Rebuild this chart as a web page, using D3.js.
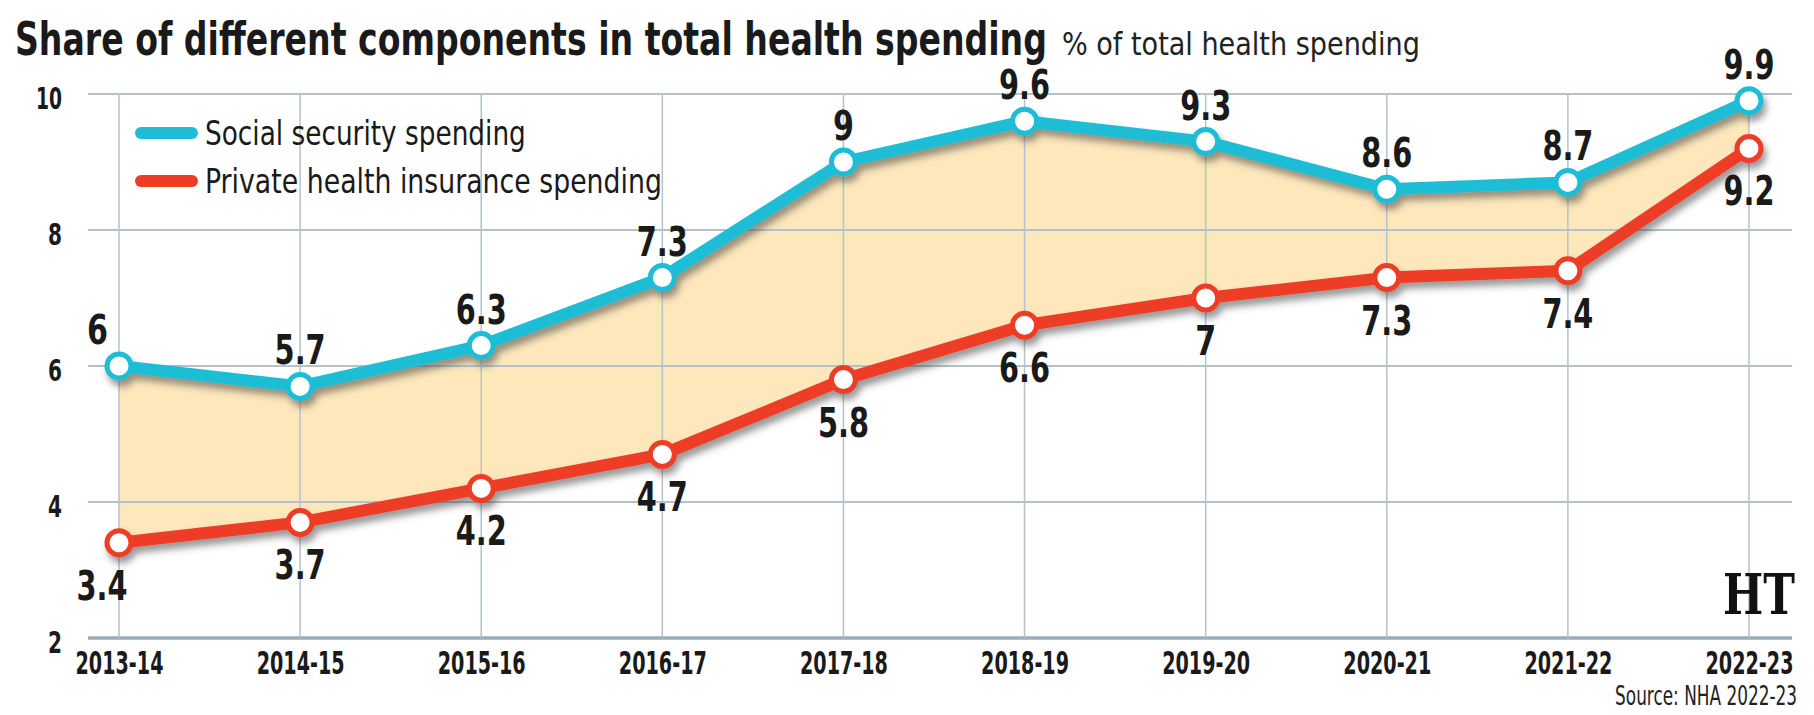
<!DOCTYPE html>
<html>
<head>
<meta charset="utf-8">
<script src="https://cdn.jsdelivr.net/npm/d3@7"></script>
<style>
  body { margin: 0; background: #fff; }
  svg { display: block; }
  .cond { font-family: "Liberation Sans Narrow", "DejaVu Sans Condensed", "Arial Narrow", sans-serif; }
</style>
</head>
<body>
<div id="container"></div>
<script>
/* DATA */
const years = ["2013-14", "2014-15", "2015-16", "2016-17", "2017-18", "2018-19", "2019-20", "2020-21", "2021-22", "2022-23"];
const socialSecurity = [6, 5.7, 6.3, 7.3, 9, 9.6, 9.3, 8.6, 8.7, 9.9];
const privateInsurance = [3.4, 3.7, 4.2, 4.7, 5.8, 6.6, 7, 7.3, 7.4, 9.2];
const yTicks = [2, 4, 6, 8, 10];
const seriesNames = ["Social security spending", "Private health insurance spending"];

/* CONSTANTS */
const width = 1814;
const height = 715;
const cyan = "#1fbdd5";
const red = "#ee3d26";
const gridColor = "#b4c2cb";
const fillColor = "#fde7bb";

const data = years.map((yr, i) => ({ year: yr, social: socialSecurity[i], priv: privateInsurance[i] }));

// rough width of a bold condensed number label
const labelWidth = s => String(s).replace(".", "").length * 21 + (String(s).includes(".") ? 9 : 0);

// squeeze a text horizontally to a target width (keeps its height)
function squeeze(sel, w, tx, ty) {
  sel.each(function(d, i) {
    const node = this;
    const natural = node.getComputedTextLength();
    const target = typeof w === "function" ? w(d, i) : w;
    const k = Math.min(1, target / natural);
    const x = typeof tx === "function" ? tx(d, i) : tx;
    const y = typeof ty === "function" ? ty(d, i) : ty;
    d3.select(node).attr("transform", `translate(${x},${y}) scale(${k},1)`);
  });
}

/* SCALES */
const xScale = d3.scalePoint()
  .domain(years)
  .range([119, 1749]);

const yScale = d3.scaleLinear()
  .domain([2, 10])
  .range([638, 94]);

const gridLeft = 88, gridRight = 1792;

/* SVG */
const svg = d3.select("#container")
  .append("svg")
  .attr("width", width)
  .attr("height", height);

svg.append("rect").attr("width", width).attr("height", height).attr("fill", "#fff");

const defs = svg.append("defs");
const shadow = defs.append("filter")
  .attr("id", "shadow")
  .attr("x", "-20%").attr("y", "-20%")
  .attr("width", "140%").attr("height", "160%");
shadow.append("feDropShadow")
  .attr("dx", 3).attr("dy", 6)
  .attr("stdDeviation", 3.5)
  .attr("flood-color", "#444")
  .attr("flood-opacity", 0.55);

// Title
svg.append("text")
  .attr("class", "cond")
  .attr("font-size", 47)
  .attr("font-weight", "bold")
  .attr("fill", "#1a1a1a")
  .text("Share of different components in total health spending")
  .call(squeeze, 1032, 15, 55);

svg.append("text")
  .attr("class", "cond")
  .attr("font-size", 32)
  .attr("fill", "#222")
  .text("% of total health spending")
  .call(squeeze, 358, 1062, 55);

// Area between the two series
const area = d3.area()
  .x(d => xScale(d.year))
  .y0(d => yScale(d.priv))
  .y1(d => yScale(d.social));

svg.append("path")
  .datum(data)
  .attr("d", area)
  .attr("fill", fillColor);

// Horizontal gridlines
svg.selectAll(".hgrid")
  .data(yTicks)
  .join("line")
  .attr("class", "hgrid")
  .attr("x1", gridLeft)
  .attr("x2", gridRight)
  .attr("y1", d => yScale(d))
  .attr("y2", d => yScale(d))
  .attr("stroke", d => d === 2 ? "#9aacb7" : gridColor)
  .attr("stroke-width", d => d === 2 ? 3.5 : 2);

// Vertical gridlines
svg.selectAll(".vgrid")
  .data(years)
  .join("line")
  .attr("class", "vgrid")
  .attr("x1", d => xScale(d))
  .attr("x2", d => xScale(d))
  .attr("y1", yScale(10))
  .attr("y2", yScale(2))
  .attr("stroke", gridColor)
  .attr("stroke-width", 1.5);

// Y axis labels
const yAxis = d3.axisLeft(yScale).tickValues(yTicks).tickSize(0).tickPadding(0);
const yG = svg.append("g")
  .attr("transform", `translate(62,5)`)
  .call(yAxis);
yG.select(".domain").remove();
yG.selectAll("text")
  .attr("class", "cond")
  .attr("font-size", 30)
  .attr("font-weight", "bold")
  .attr("fill", "#1a1a1a")
  .attr("x", null)
  .call(squeeze, d => d === 10 ? 26 : 14, 0, 0);

// X axis labels
const xAxis = d3.axisBottom(xScale).tickSize(0).tickPadding(0);
const xG = svg.append("g")
  .attr("transform", `translate(0,${yScale(2) + 11})`)
  .call(xAxis);
xG.select(".domain").remove();
xG.selectAll("text")
  .attr("class", "cond")
  .attr("font-size", 32)
  .attr("font-weight", "bold")
  .attr("fill", "#1a1a1a")
  .attr("y", null)
  .attr("dy", "0.78em")
  .call(squeeze, 88, 0, 0);

// Lines
const lineSocial = d3.line().x(d => xScale(d.year)).y(d => yScale(d.social));
const linePriv = d3.line().x(d => xScale(d.year)).y(d => yScale(d.priv));

const lineG = svg.append("g").attr("filter", "url(#shadow)");
lineG.append("path")
  .datum(data)
  .attr("d", lineSocial)
  .attr("fill", "none")
  .attr("stroke", cyan)
  .attr("stroke-width", 12)
  .attr("stroke-linejoin", "round");
lineG.append("path")
  .datum(data)
  .attr("d", linePriv)
  .attr("fill", "none")
  .attr("stroke", red)
  .attr("stroke-width", 12)
  .attr("stroke-linejoin", "round");

// Points
lineG.selectAll(".dotS")
  .data(data)
  .join("circle")
  .attr("class", "dotS")
  .attr("cx", d => xScale(d.year))
  .attr("cy", d => yScale(d.social))
  .attr("r", 12)
  .attr("fill", "#fff")
  .attr("stroke", cyan)
  .attr("stroke-width", 5);

lineG.selectAll(".dotP")
  .data(data)
  .join("circle")
  .attr("class", "dotP")
  .attr("cx", d => xScale(d.year))
  .attr("cy", d => yScale(d.priv))
  .attr("r", 12)
  .attr("fill", "#fff")
  .attr("stroke", red)
  .attr("stroke-width", 5);

// Value labels
svg.selectAll(".labS")
  .data(data)
  .join("text")
  .attr("class", "labS cond")
  .attr("text-anchor", (d, i) => i === 0 ? "end" : "middle")
  .attr("font-size", 40)
  .attr("font-weight", "bold")
  .attr("fill", "#1a1a1a")
  .text(d => d.social)
  .call(squeeze, d => labelWidth(d.social),
    (d, i) => xScale(d.year) + (i === 0 ? -11 : 0),
    d => yScale(d.social) - 22);

svg.selectAll(".labP")
  .data(data)
  .join("text")
  .attr("class", "labP cond")
  .attr("text-anchor", "middle")
  .attr("font-size", 40)
  .attr("font-weight", "bold")
  .attr("fill", "#1a1a1a")
  .text(d => d.priv)
  .call(squeeze, d => labelWidth(d.priv),
    (d, i) => xScale(d.year) + (i === 0 ? -17 : 0),
    d => yScale(d.priv) + 57);

// Legend
const legend = svg.append("g");
const legendColors = [cyan, red];
const legendWidths = [321, 457];
seriesNames.forEach((name, i) => {
  const ly = 133 + i * 48;
  legend.append("line")
    .attr("x1", 141).attr("x2", 192)
    .attr("y1", ly).attr("y2", ly)
    .attr("stroke", legendColors[i])
    .attr("stroke-width", 12)
    .attr("stroke-linecap", "round");
  legend.append("text")
    .attr("class", "cond")
    .attr("font-size", 34)
    .attr("fill", "#1a1a1a")
    .text(name)
    .call(squeeze, legendWidths[i], 205, ly + 12);
});

// HT logo
svg.append("text")
  .attr("font-family", "'DejaVu Serif', serif")
  .attr("font-size", 56)
  .attr("font-weight", "bold")
  .attr("fill", "#111")
  .text("HT")
  .call(squeeze, 72, 1723, 614);

// Source
svg.append("text")
  .attr("class", "cond")
  .attr("text-anchor", "end")
  .attr("font-size", 27)
  .attr("fill", "#222")
  .text("Source: NHA 2022-23")
  .call(squeeze, 182, 1797, 705);
</script>
</body>
</html>
